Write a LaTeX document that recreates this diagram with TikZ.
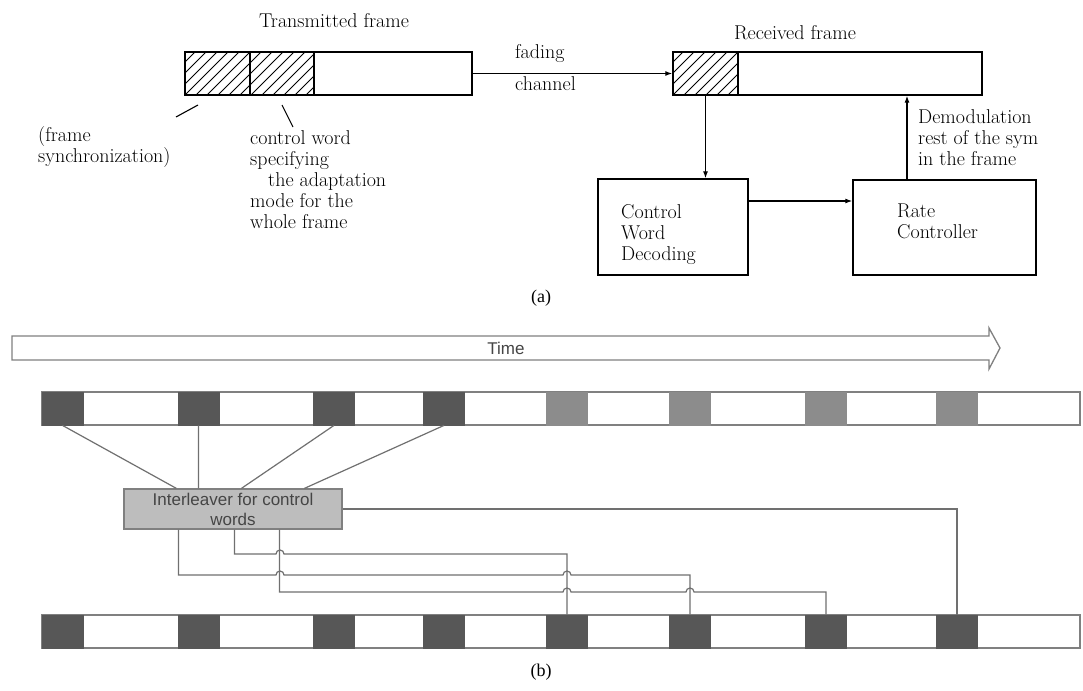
\documentclass[tikz,border=0pt]{standalone}
\usepackage{fontspec}
\newfontfamily\sansf{Liberation Sans}
\newfontfamily\capf{Liberation Serif}
\usetikzlibrary{arrows.meta,calc}
\definecolor{barline}{HTML}{808080}
\definecolor{darksq}{HTML}{575757}
\definecolor{lightsq}{HTML}{8C8C8C}
\definecolor{ilfill}{HTML}{BDBDBD}
\definecolor{wirec}{HTML}{707070}
\definecolor{txtgray}{HTML}{454545}
\newcommand\hatchrect[4]{%
  \begin{scope}
    \clip (#1,#2) rectangle (#3,#4);
    \foreach \i in {-5,...,13} \draw[line width=0.9pt] ({#1+\i*11},#4) -- ++(45,-45);
  \end{scope}}
\begin{document}
\begin{tikzpicture}[x=1pt,y=-1pt,
  lm/.style={font=\fontsize{20}{21}\selectfont, inner sep=0pt},
  lmml/.style={lm, align=left, anchor=north west},
  framebox/.style={draw, line width=1.4pt, inner sep=0pt, minimum height=43pt},
  blk/.style={draw, line width=1.4pt, inner sep=0pt},
  arr/.style={line width=1.1pt, -{Latex[length=7pt,width=5pt]}},
  ann/.style={line width=1.1pt},
  barbox/.style={draw=barline, line width=1.2pt, inner sep=0pt, minimum width=1038pt, minimum height=33pt},
  sq/.style={draw=#1, fill=#1, line width=0.8pt, inner sep=0pt, minimum width=41pt, minimum height=33pt},
  ilbox/.style={draw=barline, fill=ilfill, line width=1.2pt, inner sep=0pt, minimum width=218pt, minimum height=40pt,
    align=center, font=\sansf\fontsize{17}{20}\selectfont, text=txtgray},
  wire/.style={draw=wirec, line width=1.2pt},
  capt/.style={font=\capf\fontsize{18}{20}\selectfont, inner sep=0pt}
]
\useasboundingbox (0,0) rectangle (1083,690);
\fill[white] (0,0) rectangle (1083,690);

% ---------------- (a) ----------------
\hatchrect{185}{52}{314}{95}
\hatchrect{673}{52}{738}{95}
\node[framebox, minimum width=287pt] (tf) at (328.5,73.5) {};
\node[framebox, minimum width=65pt] (tfs) at (217.5,73.5) {};
\node[framebox, minimum width=64pt] (tfc) at (282,73.5) {};
\node[framebox, minimum width=309pt] (rf) at (827.5,73.5) {};
\node[framebox, minimum width=65pt] (rfc) at (705.5,73.5) {};

\node[lm, anchor=base] (tft) at (334,28) {Transmitted frame};
\node[lm, anchor=base] (rft) at (795,40) {Received frame};
\node[lm, anchor=base west] (fad) at (515,59) {fading};
\node[lm, anchor=base west] (chn) at (515,91) {channel};

\draw[arr] (tf.east) -- (rf.west);

\node[blk, minimum width=150pt, minimum height=96pt] (cwd) at (673,227) {};
\node[blk, minimum width=183pt, minimum height=95pt] (rate) at (944.5,227.5) {};
\node[lmml] (cwdt) at (621,204) {Control\\Word\\Decoding};
\node[lmml] (ratet) at (897,204) {Rate\\Controller};

\draw[arr] (rfc.south) -- (rfc.south |- cwd.north);
\coordinate (c1) at ([yshift=26pt]cwd.east);
\draw[arr] (c1) -- (c1 -| rate.west);
\coordinate (c2) at ([xshift=-37.5pt]rate.north);
\draw[arr] (c2) -- (c2 |- rf.south);

\node[lmml] (demt) at (918,109) {Demodulation\\rest of the sym\\in the frame};

\coordinate (a1s) at (176,117);
\coordinate (a1e) at (198,105);
\coordinate (a2s) at (282,105);
\coordinate (a2e) at (293,127);
\draw[ann] (a1s) -- (a1e);
\draw[ann] (a2s) -- (a2e);
\node[lmml] (synct) at (38,126) {(frame\\synchronization)};
\node[lmml] (cwt) at (250,130) {control word\\specifying\\\hspace*{18pt}the adaptation\\mode for the\\whole frame};

\node[capt] (capa) at (541,298) {(a)};

% ---------------- (b) ----------------
\draw[draw=barline, line width=1.3pt] (12,336) -- (989,336) -- (989,328) -- (1000,348) -- (989,369) -- (989,360) -- (12,360) -- cycle;
\node[font=\sansf\fontsize{17}{20}\selectfont, text=txtgray, inner sep=0pt] (time) at (506,348) {Time};

\node[barbox] (topbar) at (561,408.5) {};
\node[barbox] (botbar) at (561,631.5) {};
\foreach \n/\x/\c in {1/62.5/darksq,2/198.5/darksq,3/334/darksq,4/444/darksq,5/567/lightsq,6/690/lightsq,7/826/lightsq,8/957/lightsq}{
  \node[sq=\c] (s\n) at (\x,408.5) {};
}
\foreach \n/\x in {1/62.5,2/198.5,3/334,4/444,5/567,6/690,7/826,8/957}{
  \node[sq=darksq] (b\n) at (\x,631.5) {};
}

\node[ilbox] (il) at (233,509) {Interleaver for control\\words};
\path (il.north west) ++(53,0) coordinate (i1) ++(22,0) coordinate (i2) ++(43,0) coordinate (i3) ++(63,0) coordinate (i4);
\path (il.south west) ++(55,0) coordinate (o1) ++(56,0) coordinate (o2) ++(45,0) coordinate (o3);

\draw[wire] (s1.south) -- (i1);
\draw[wire] (s2.south) -- (i2);
\draw[wire] (s3.south) -- (i3);
\draw[wire] (s4.south) -- (i4);

\draw[wire] (il.east) -| (b8.north);
\draw[wire] (o2) |- (276,554) arc[start angle=180, end angle=0, radius=4pt] -| (b5.north);
\draw[wire] (o1) |- (276,575) arc[start angle=180, end angle=0, radius=4pt] -- (563,575) arc[start angle=180, end angle=0, radius=4pt] -| (b6.north);
\draw[wire] (o3) |- (563,592) arc[start angle=180, end angle=0, radius=4pt] -- (686,592) arc[start angle=180, end angle=0, radius=4pt] -| (b7.north);

\node[capt] (capb) at (541,672) {(b)};
\end{tikzpicture}
\end{document}
